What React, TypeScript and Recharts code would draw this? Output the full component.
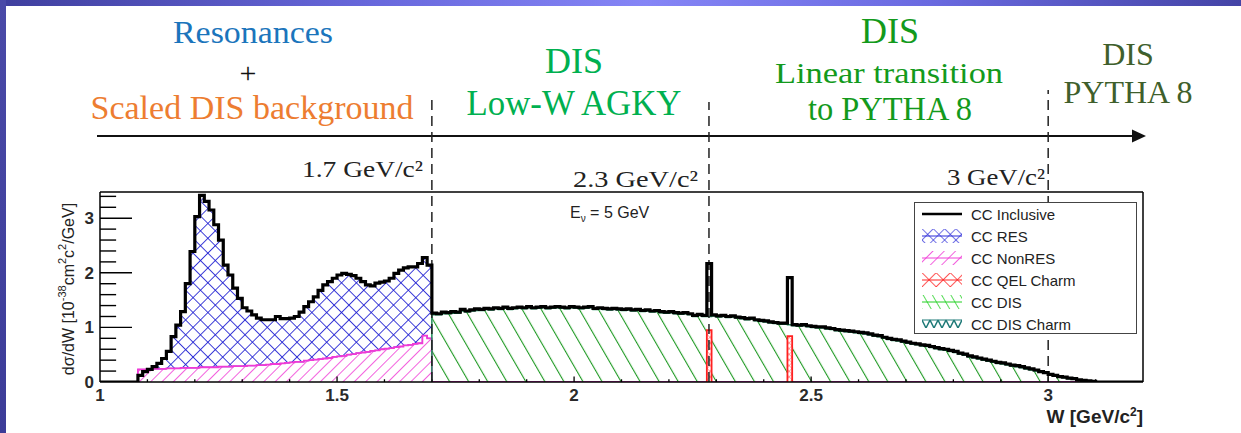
import React from "react";
import { ComposedChart, Line, Area, XAxis, YAxis, ReferenceLine, Legend } from "recharts";

const binWidth = 0.01;
const wStart = 1.0;

// CC Inclusive, one value per 0.01 GeV bin, W = 1.00 ... 3.19
const ccInclusive = [
  0, 0, 0, 0, 0, 0, 0, 0, 0.12, 0.19, // 1.00
  0.23, 0.28, 0.34, 0.43, 0.56, 0.83, 1.04, 1.29, 1.8, 2.39, // 1.10
  3.03, 3.42, 3.31, 3.15, 2.88, 2.6, 2.14, 1.96, 1.72, 1.53, // 1.20
  1.36, 1.3, 1.23, 1.17, 1.14, 1.14, 1.14, 1.2, 1.16, 1.16, // 1.30
  1.17, 1.2, 1.28, 1.38, 1.47, 1.56, 1.68, 1.78, 1.84, 1.9, // 1.40
  1.96, 1.99, 1.97, 1.95, 1.9, 1.84, 1.78, 1.76, 1.81, 1.83, // 1.50
  1.85, 1.9, 1.99, 2.05, 2.09, 2.11, 2.11, 2.17, 2.28, 2.14, // 1.60
  1.26, 1.25, 1.28, 1.27, 1.29, 1.28, 1.33, 1.3, 1.32, 1.34, // 1.70
  1.33, 1.35, 1.34, 1.36, 1.35, 1.37, 1.35, 1.36, 1.37, 1.36, // 1.80
  1.38, 1.36, 1.37, 1.38, 1.36, 1.37, 1.38, 1.37, 1.36, 1.38, // 1.90
  1.37, 1.36, 1.37, 1.38, 1.35, 1.36, 1.35, 1.34, 1.35, 1.34, // 2.00
  1.33, 1.34, 1.32, 1.33, 1.31, 1.32, 1.3, 1.31, 1.29, 1.28, // 2.10
  1.29, 1.27, 1.26, 1.27, 1.25, 1.22, 1.24, 1.22, 2.17, 1.23, // 2.20
  1.21, 1.22, 1.2, 1.21, 1.19, 1.18, 1.16, 1.17, 1.14, 1.13, // 2.30
  1.12, 1.1, 1.09, 1.08, 1.08, 1.91, 1.05, 1.04, 1.05, 1.03, // 2.40
  1.02, 1.01, 1.01, 0.99, 0.98, 0.96, 0.95, 0.94, 0.93, 0.92, // 2.50
  0.91, 0.9, 0.88, 0.86, 0.85, 0.82, 0.8, 0.78, 0.77, 0.75, // 2.60
  0.73, 0.71, 0.7, 0.68, 0.67, 0.65, 0.63, 0.61, 0.6, 0.58, // 2.70
  0.56, 0.53, 0.51, 0.48, 0.46, 0.44, 0.42, 0.4, 0.38, 0.36, // 2.80
  0.35, 0.33, 0.31, 0.3, 0.28, 0.26, 0.24, 0.22, 0.19, 0.17, // 2.90
  0.14, 0.12, 0.1, 0.09, 0.07, 0.06, 0.04, 0.03, 0.02, 0.01, // 3.00
  0, 0, 0, 0, 0, 0, 0, 0, 0, 0, // 3.10
];

// CC NonRES, bins W = 1.08 ... 1.69
const nonResStart = 1.08;
const ccNonRes = [
  0.23, 0.23, // 1.08
  0.23, 0.24, 0.24, 0.24, 0.25, 0.25, 0.25, 0.26, 0.26, 0.26, // 1.10
  0.26, 0.27, 0.27, 0.27, 0.27, 0.28, 0.28, 0.28, 0.29, 0.29, // 1.20
  0.29, 0.3, 0.3, 0.31, 0.31, 0.32, 0.33, 0.33, 0.34, 0.35, // 1.30
  0.36, 0.37, 0.37, 0.39, 0.4, 0.41, 0.42, 0.43, 0.44, 0.46, // 1.40
  0.47, 0.48, 0.5, 0.51, 0.53, 0.54, 0.55, 0.57, 0.58, 0.6, // 1.50
  0.61, 0.62, 0.64, 0.65, 0.67, 0.68, 0.7, 0.71, 0.85, 0.8, // 1.60
];

// CC DIS, bins W = 1.70 ... 3.09
const disStart = 1.7;
const ccDis = [
  1.23, 1.23, 1.25, 1.25, 1.26, 1.26, 1.3, 1.28, 1.3, 1.31, // 1.70
  1.31, 1.33, 1.32, 1.34, 1.33, 1.35, 1.33, 1.34, 1.35, 1.34, // 1.80
  1.36, 1.34, 1.35, 1.36, 1.34, 1.35, 1.36, 1.35, 1.34, 1.36, // 1.90
  1.35, 1.34, 1.35, 1.36, 1.33, 1.34, 1.33, 1.32, 1.33, 1.32, // 2.00
  1.31, 1.32, 1.3, 1.31, 1.29, 1.3, 1.28, 1.29, 1.27, 1.26, // 2.10
  1.27, 1.25, 1.24, 1.25, 1.23, 1.2, 1.22, 1.2, 1.2, 1.21, // 2.20
  1.19, 1.2, 1.18, 1.19, 1.17, 1.16, 1.14, 1.15, 1.12, 1.11, // 2.30
  1.1, 1.08, 1.07, 1.06, 1.06, 1.05, 1.03, 1.02, 1.03, 1.01, // 2.40
  1.0, 0.99, 0.99, 0.97, 0.96, 0.94, 0.93, 0.92, 0.91, 0.9, // 2.50
  0.89, 0.88, 0.86, 0.84, 0.83, 0.8, 0.78, 0.76, 0.75, 0.73, // 2.60
  0.71, 0.69, 0.68, 0.66, 0.65, 0.63, 0.61, 0.59, 0.58, 0.56, // 2.70
  0.54, 0.51, 0.49, 0.46, 0.44, 0.42, 0.4, 0.38, 0.36, 0.34, // 2.80
  0.33, 0.31, 0.29, 0.28, 0.26, 0.24, 0.22, 0.2, 0.18, 0.16, // 2.90
  0.13, 0.11, 0.09, 0.08, 0.06, 0.05, 0.03, 0.02, 0.01, 0.01, // 3.00
];

// CC QEL Charm spikes (bin low edge, height)
const qelBins = [2.28, 2.45];
const qelValues = [0.95, 0.84];

const xTicks = [1, 1.5, 2, 2.5, 3];
const xTickLabels = ["1", "1.5", "2", "2.5", "3"];
const yTicks = [0, 1, 2, 3];
const yTickLabels = ["0", "1", "2", "3"];
const xMajorTicks = [1.5, 2, 2.5, 3];
const xMinorTicks = [1.1, 1.2, 1.3, 1.4, 1.6, 1.7, 1.8, 1.9, 2.1, 2.2, 2.3, 2.4, 2.6, 2.7, 2.8, 2.9, 3.1];
const yMajorTicks = [1, 2, 3];
const yMinorTicks = [0.2, 0.4, 0.6, 0.8, 1.2, 1.4, 1.6, 1.8, 2.2, 2.4, 2.6, 2.8, 3.2, 3.4];

// vertical region boundaries (W) and how far up they run (in y units)
const boundaries = [1.7, 2.2845, 3.0];
const boundaryTops = [5.22, 5.13, 5.35];

const legendNames = ["CC Inclusive", "CC RES", "CC NonRES", "CC QEL Charm", "CC DIS", "CC DIS Charm"];

const X_MAX = 3.2;
const Y_MAX = 3.48;

const r3 = (v: number) => Math.round(v * 1000) / 1000;

function toSteps(start: number, vals: number[], key: string, closeToZero = false) {
  const pts: any[] = [];
  if (closeToZero) pts.push({ w: start, [key]: 0 });
  vals.forEach((v, i) => {
    const lo = r3(start + i * binWidth);
    pts.push({ w: lo, [key]: v }, { w: r3(lo + binWidth), [key]: v });
  });
  if (closeToZero) pts.push({ w: r3(start + vals.length * binWidth), [key]: 0 });
  return pts;
}

const totalPts = toSteps(wStart, ccInclusive, "t");

const resOffset = Math.round((nonResStart - wStart) / binWidth);
const resPts = ccNonRes.flatMap((nr, i) => {
  const lo = r3(nonResStart + i * binWidth);
  const top = ccInclusive[resOffset + i];
  return [
    { w: lo, r: [nr, top] },
    { w: r3(lo + binWidth), r: [nr, top] },
  ];
});

const nonResPts = [
  ...toSteps(nonResStart, ccNonRes, "n", true),
  { w: 3.1, n: 0 },
];

const disPts = toSteps(disStart, ccDis, "d", true);

const qelPts: any[] = [];
qelBins.forEach((lo, i) => {
  const hi = r3(lo + binWidth);
  qelPts.push({ w: lo, q: 0 }, { w: lo, q: qelValues[i] }, { w: hi, q: qelValues[i] }, { w: hi, q: 0 });
  qelPts.push({ w: r3(hi + 0.002), q: null });
});

const serif = "Liberation Serif";
const sans = "Liberation Sans";

const legendSymbol = (i: number) => {
  switch (i) {
    case 0:
      return <line x1={0} y1={8} x2={40} y2={8} stroke="#000" strokeWidth={2.5} />;
    case 1:
      return (
        <g>
          <rect x={0} y={1} width={40} height={14} fill="url(#hatchBlueLeg)" />
          <line x1={0} y1={8} x2={40} y2={8} stroke="#2a2ad8" strokeWidth={1} />
        </g>
      );
    case 2:
      return (
        <g>
          <rect x={0} y={1} width={40} height={14} fill="url(#hatchPink)" />
          <line x1={0} y1={8} x2={40} y2={8} stroke="#f040d8" strokeWidth={1} />
        </g>
      );
    case 3:
      return (
        <g>
          <rect x={0} y={1} width={40} height={14} fill="url(#hatchRedLeg)" />
          <line x1={0} y1={8} x2={40} y2={8} stroke="#ff2020" strokeWidth={1} />
        </g>
      );
    case 4:
      return (
        <g>
          <rect x={0} y={1} width={40} height={14} fill="url(#hatchGreenLeg)" />
          <line x1={0} y1={8} x2={40} y2={8} stroke="#22d022" strokeWidth={1} />
        </g>
      );
    default:
      return (
        <g>
          <rect x={0} y={1} width={40} height={14} fill="url(#hatchTeal)" />
          <line x1={0} y1={4} x2={40} y2={4} stroke="#1f7a78" strokeWidth={1} />
        </g>
      );
  }
};

const renderLegend = () => (
  <div
    style={{
      width: 223,
      height: 132,
      boxSizing: "border-box",
      border: "1.5px solid #444",
      background: "#fff",
      fontFamily: sans,
      fontSize: 15,
      color: "#222",
    }}
  >
    {legendNames.map((name, i) => (
      <div key={name} style={{ height: 22, display: "flex", alignItems: "center" }}>
        <svg width={42} height={16} style={{ marginLeft: 7, marginRight: 7 }}>
          {legendSymbol(i)}
        </svg>
        <span>{name}</span>
      </div>
    ))}
  </div>
);

export default function App() {
  return (
    <div style={{ position: "relative", width: 1241, height: 433, background: "#fff", overflow: "hidden" }}>
      <style>{"body{margin:0}"}</style>
      <ComposedChart width={1241} height={433} margin={{ top: 192, right: 98, bottom: 0, left: 70 }}>
        <defs>
          <pattern id="hatchBlue" width={10.5} height={10.5} patternUnits="userSpaceOnUse" patternTransform="rotate(45)">
            <line x1={0} y1={0} x2={0} y2={10.5} stroke="#1e1ed2" strokeWidth={1.7} />
            <line x1={0} y1={0} x2={10.5} y2={0} stroke="#1e1ed2" strokeWidth={1.7} />
          </pattern>
          <pattern id="hatchBlueLeg" width={8} height={8} patternUnits="userSpaceOnUse" patternTransform="rotate(45)">
            <line x1={0} y1={0} x2={0} y2={8} stroke="#2a2ad8" strokeWidth={1.3} />
            <line x1={0} y1={0} x2={8} y2={0} stroke="#2a2ad8" strokeWidth={1.3} />
          </pattern>
          <pattern id="hatchPink" width={8} height={8} patternUnits="userSpaceOnUse" patternTransform="rotate(45)">
            <line x1={0} y1={0} x2={0} y2={8} stroke="#f03ad6" strokeWidth={1.6} />
          </pattern>
          <pattern id="hatchGreen" width={16.5} height={16.5} patternUnits="userSpaceOnUse" patternTransform="rotate(-30)">
            <line x1={0} y1={0} x2={0} y2={16.5} stroke="#1f9a24" strokeWidth={2.2} />
          </pattern>
          <pattern id="hatchGreenLeg" width={8} height={8} patternUnits="userSpaceOnUse" patternTransform="rotate(-30)">
            <line x1={0} y1={0} x2={0} y2={8} stroke="#22d022" strokeWidth={1.5} />
          </pattern>
          <pattern id="hatchRed" width={4} height={4} patternUnits="userSpaceOnUse" patternTransform="rotate(45)">
            <rect width={4} height={4} fill="#fff" />
            <line x1={0} y1={0} x2={0} y2={4} stroke="#ff3030" strokeWidth={0.8} />
            <line x1={0} y1={0} x2={4} y2={0} stroke="#ff3030" strokeWidth={0.8} />
          </pattern>
          <pattern id="hatchRedLeg" width={10} height={10} patternUnits="userSpaceOnUse" patternTransform="rotate(45)">
            <line x1={0} y1={0} x2={0} y2={10} stroke="#ff2020" strokeWidth={1.5} />
            <line x1={0} y1={0} x2={10} y2={0} stroke="#ff2020" strokeWidth={1.5} />
          </pattern>
          <pattern id="hatchTeal" width={8} height={12} patternUnits="userSpaceOnUse">
            <polyline points="0,4 4,12 8,4" fill="none" stroke="#1f7a78" strokeWidth={1.5} />
          </pattern>
        </defs>

        <XAxis
          type="number"
          dataKey="w"
          domain={[1, X_MAX]}
          allowDataOverflow
          ticks={xTicks}
          interval={0}
          tickFormatter={(v: number) => xTickLabels[xTicks.indexOf(v)]}
          tickLine={false}
          tickSize={0}
          tickMargin={7}
          height={51}
          axisLine={{ stroke: "#000", strokeWidth: 1.5 }}
          tick={{ fill: "#2a2a2a", fontSize: 17, fontWeight: 700, fontFamily: sans }}
        />
        <YAxis
          type="number"
          domain={[0, Y_MAX]}
          allowDataOverflow
          ticks={yTicks}
          interval={0}
          tickFormatter={(v: number) => yTickLabels[yTicks.indexOf(v)]}
          tickLine={false}
          tickSize={0}
          tickMargin={6}
          width={30}
          axisLine={{ stroke: "#000", strokeWidth: 1.5 }}
          tick={{ fill: "#2a2a2a", fontSize: 17, fontWeight: 700, fontFamily: sans }}
        />

        <Area
          data={resPts}
          dataKey="r"
          type="linear"
          stroke="#1e1ed2"
          strokeWidth={1}
          fill="url(#hatchBlue)"
          fillOpacity={1}
          dot={false}
          activeDot={false}
          isAnimationActive={false}
        />
        <Area
          data={nonResPts}
          dataKey="n"
          type="linear"
          stroke="#f03ad6"
          strokeWidth={1.8}
          fill="url(#hatchPink)"
          fillOpacity={1}
          dot={false}
          activeDot={false}
          isAnimationActive={false}
        />
        <Area
          data={disPts}
          dataKey="d"
          type="linear"
          stroke="#1f8a5a"
          strokeWidth={1.5}
          fill="url(#hatchGreen)"
          fillOpacity={1}
          dot={false}
          activeDot={false}
          isAnimationActive={false}
        />
        <Area
          data={qelPts}
          dataKey="q"
          type="linear"
          stroke="#ff2020"
          strokeWidth={1.8}
          fill="url(#hatchRed)"
          fillOpacity={1}
          dot={false}
          activeDot={false}
          isAnimationActive={false}
        />

        {yMajorTicks.map((v) => (
          <ReferenceLine key={"yM" + v} segment={[{ x: 1, y: v }, { x: 1.0675, y: v }]} stroke="#000" strokeWidth={1.4} ifOverflow="visible" />
        ))}
        {yMinorTicks.map((v) => (
          <ReferenceLine key={"ym" + v} segment={[{ x: 1, y: v }, { x: 1.034, y: v }]} stroke="#000" strokeWidth={1.4} ifOverflow="visible" />
        ))}
        {xMajorTicks.map((v) => (
          <ReferenceLine key={"xM" + v} segment={[{ x: v, y: 0 }, { x: v, y: 0.1 }]} stroke="#000" strokeWidth={1.3} ifOverflow="visible" />
        ))}
        {xMinorTicks.map((v) => (
          <ReferenceLine key={"xm" + v} segment={[{ x: v, y: 0 }, { x: v, y: 0.05 }]} stroke="#000" strokeWidth={1.3} ifOverflow="visible" />
        ))}

        <ReferenceLine y={Y_MAX} stroke="#000" strokeWidth={1.5} ifOverflow="visible" />
        <ReferenceLine x={X_MAX} stroke="#000" strokeWidth={1.5} ifOverflow="visible" />

        {boundaries.map((b, i) => (
          <ReferenceLine
            key={"b" + b}
            segment={[{ x: b, y: 0 }, { x: b, y: boundaryTops[i] }]}
            stroke="#222"
            strokeWidth={1.5}
            strokeDasharray="10 6"
            ifOverflow="visible"
          />
        ))}

        <Line
          data={totalPts}
          dataKey="t"
          type="linear"
          stroke="#000"
          strokeWidth={3.2}
          dot={false}
          activeDot={false}
          isAnimationActive={false}
        />

        <Legend
          layout="vertical"
          align="center"
          verticalAlign="middle"
          wrapperStyle={{ left: 914, top: 202, width: 223, height: 132 }}
          content={renderLegend}
        />

        {/* slide annotations */}
        <text x={253} y={43} textAnchor="middle" fontFamily={serif} fontSize={31} fill="#1b75bc" textLength={160} lengthAdjust="spacingAndGlyphs">
          Resonances
        </text>
        <text x={248} y={83} textAnchor="middle" fontFamily={serif} fontSize={30} fill="#111">
          +
        </text>
        <text x={252} y={119} textAnchor="middle" fontFamily={serif} fontSize={33} fill="#ed7d31" textLength={323} lengthAdjust="spacingAndGlyphs">
          Scaled DIS background
        </text>

        <text x={574} y={73} textAnchor="middle" fontFamily={serif} fontSize={36} fill="#00b050">
          DIS
        </text>
        <text x={574} y={115} textAnchor="middle" fontFamily={serif} fontSize={36} fill="#00b050" textLength={215} lengthAdjust="spacingAndGlyphs">
          Low-W AGKY
        </text>

        <text x={890} y={43} textAnchor="middle" fontFamily={serif} fontSize={36} fill="#139a1c">
          DIS
        </text>
        <text x={889} y={83} textAnchor="middle" fontFamily={serif} fontSize={30} fill="#139a1c" textLength={228} lengthAdjust="spacingAndGlyphs">
          Linear transition
        </text>
        <text x={890} y={120} textAnchor="middle" fontFamily={serif} fontSize={34} fill="#139a1c" textLength={164} lengthAdjust="spacingAndGlyphs">
          to PYTHA 8
        </text>

        <text x={1128} y={65} textAnchor="middle" fontFamily={serif} fontSize={32} fill="#3f5f2c">
          DIS
        </text>
        <text x={1128} y={103} textAnchor="middle" fontFamily={serif} fontSize={32} fill="#3f5f2c" textLength={129} lengthAdjust="spacingAndGlyphs">
          PYTHA 8
        </text>

        <line x1={97} y1={136} x2={1134} y2={136} stroke="#111" strokeWidth={2.2} />
        <polygon points="1132,129.5 1146,136 1132,142.5" fill="#111" />

        <text x={423} y={177} textAnchor="end" fontFamily={serif} fontSize={23} fill="#222" textLength={121} lengthAdjust="spacingAndGlyphs">
          1.7 GeV/c²
        </text>
        <text x={698} y={187} textAnchor="end" fontFamily={serif} fontSize={23} fill="#222" textLength={125} lengthAdjust="spacingAndGlyphs">
          2.3 GeV/c²
        </text>
        <text x={1045} y={185} textAnchor="end" fontFamily={serif} fontSize={23} fill="#222" textLength={98} lengthAdjust="spacingAndGlyphs">
          3 GeV/c²
        </text>

        <text x={570} y={218} fontFamily={sans} fontSize={16} fill="#222">
          E<tspan fontSize={10} dy={4}>ν</tspan>
          <tspan dy={-4}> = 5 GeV</tspan>
        </text>

        <text
          x={68}
          y={289}
          transform="rotate(-90 68 289)"
          textAnchor="middle"
          dominantBaseline="central"
          fontFamily={sans}
          fontSize={16}
          fill="#222"
        >
          dσ/dW [10<tspan fontSize={11} dy={-6}>-38</tspan>
          <tspan dy={6}>cm</tspan>
          <tspan fontSize={11} dy={-6}>2</tspan>
          <tspan dy={6}>c</tspan>
          <tspan fontSize={11} dy={-6}>2</tspan>
          <tspan dy={6}>/GeV]</tspan>
        </text>

        <text x={1143} y={423} textAnchor="end" fontFamily={sans} fontSize={19} fontWeight={700} fill="#222">
          W [GeV/c<tspan fontSize={12} dy={-7}>2</tspan>
          <tspan dy={7}>]</tspan>
        </text>
      </ComposedChart>

      <div
        style={{
          position: "absolute",
          left: 0,
          top: 0,
          width: 1241,
          height: 6,
          background: "linear-gradient(90deg, #3f3f9e 0%, #6868dc 30%, #8585f6 52%, #6a6ae0 75%, #4444a6 100%)",
          pointerEvents: "none",
        }}
      />
      <div
        style={{
          position: "absolute",
          left: 0,
          top: 0,
          width: 6,
          height: 433,
          background: "linear-gradient(180deg, #4a4aa8 0%, #3c3c98 100%)",
          pointerEvents: "none",
        }}
      />
    </div>
  );
}
